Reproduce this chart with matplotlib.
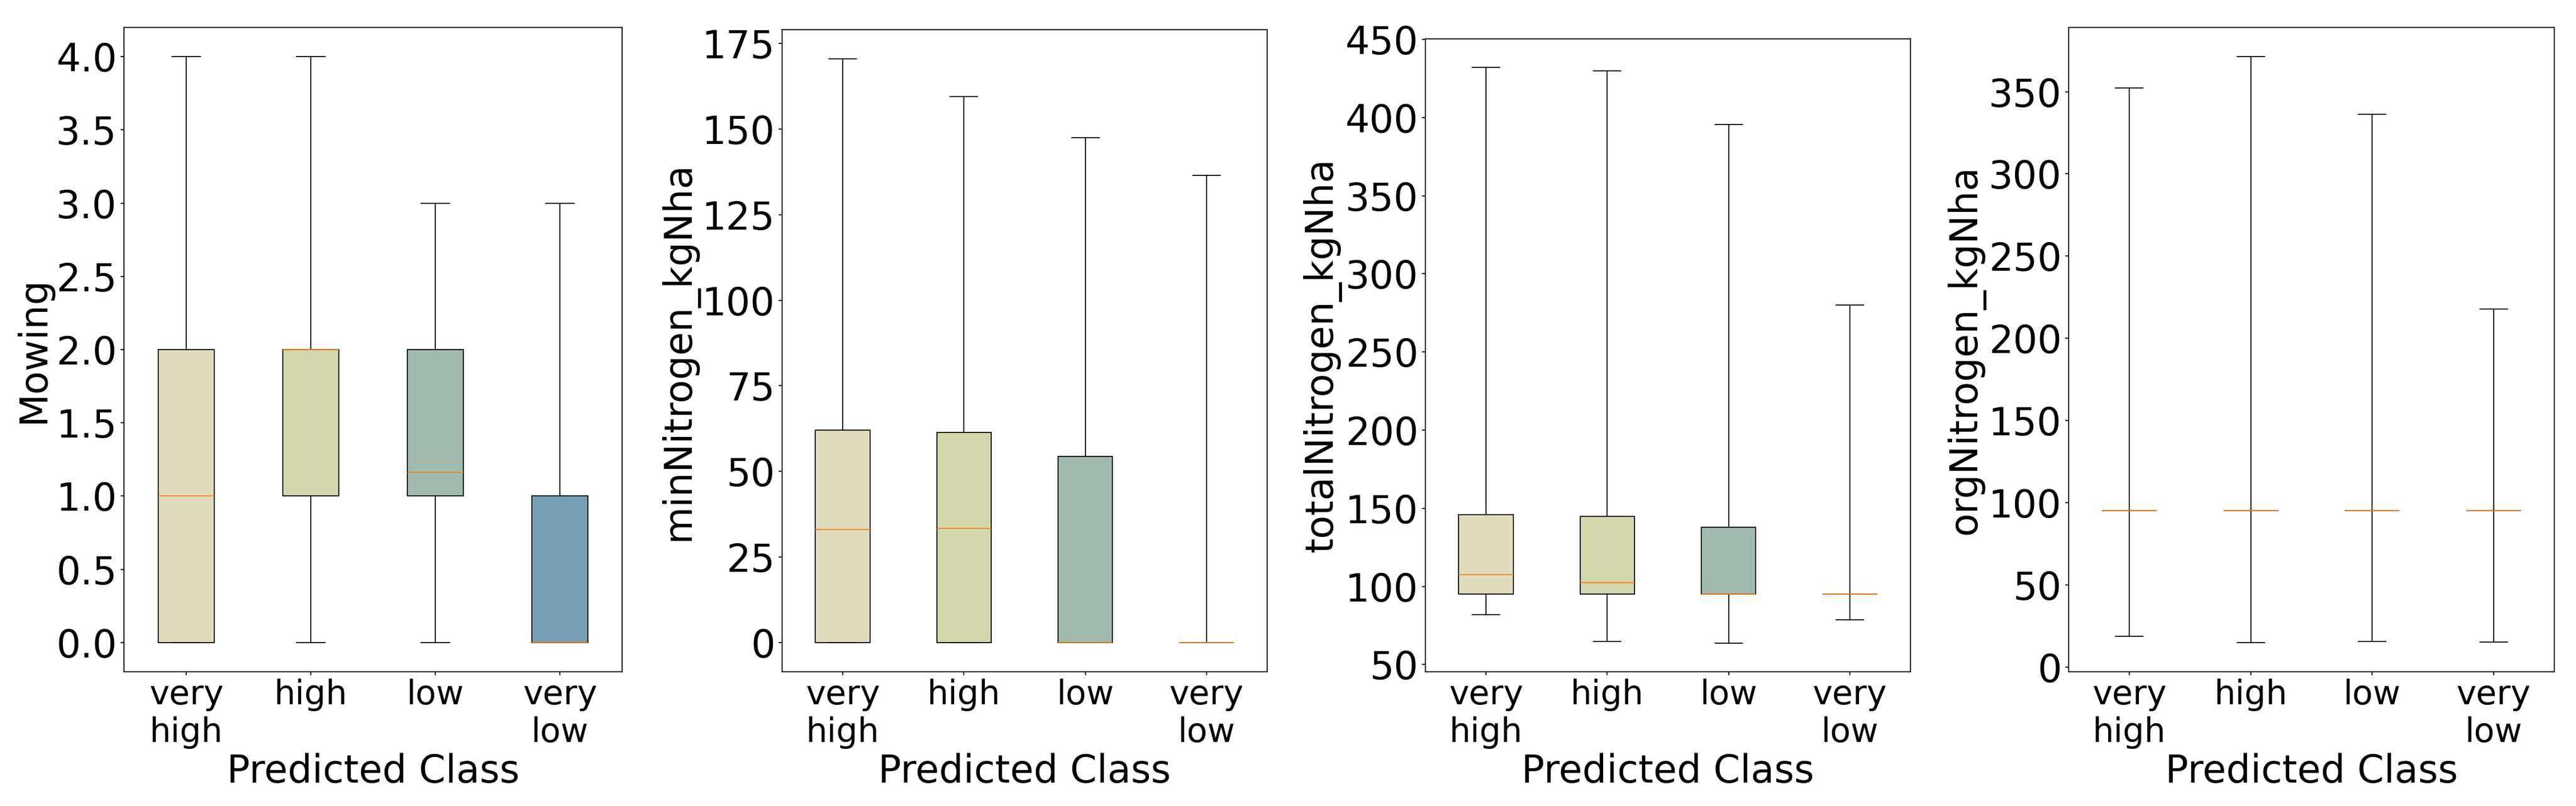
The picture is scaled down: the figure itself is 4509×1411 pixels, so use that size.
import matplotlib
matplotlib.use("Agg")
from matplotlib import pyplot as plt
from matplotlib.ticker import MultipleLocator

plt.rcParams["axes.linewidth"] = 1.0
plt.rcParams["xtick.major.width"] = 1.0
plt.rcParams["ytick.major.width"] = 1.0

# classes on the x axis
classes = ["very\nhigh", "high", "low", "very\nlow"]
box_colors = ["#e1dbbe", "#d4d6ab", "#a0bbae", "#77a0b6"]

# box statistics: whislo, q1, med, q3, whishi
mowing_lo = [0.0, 0.0, 0.0, 0.0]
mowing_q1 = [0.0, 1.0, 1.0, 0.0]
mowing_med = [1.0, 2.0, 1.16, 0.0]
mowing_q3 = [2.0, 2.0, 2.0, 1.0]
mowing_hi = [4.0, 4.0, 3.0, 3.0]

minN_lo = [0.0, 0.0, 0.0, 0.0]
minN_q1 = [0.0, 0.0, 0.0, 0.0]
minN_med = [33.0, 33.3, 0.0, 0.0]
minN_q3 = [62.0, 61.4, 54.4, 0.0]
minN_hi = [170.5, 159.5, 147.5, 136.4]

totalN_lo = [82.0, 64.8, 63.8, 78.6]
totalN_q1 = [95.0, 95.0, 95.0, 95.0]
totalN_med = [107.6, 102.3, 95.0, 95.0]
totalN_q3 = [146.0, 144.7, 137.8, 95.0]
totalN_hi = [432.0, 430.0, 395.4, 280.0]

orgN_lo = [18.8, 15.0, 15.6, 15.3]
orgN_q1 = [95.0, 95.0, 95.0, 95.0]
orgN_med = [95.0, 95.0, 95.0, 95.0]
orgN_q3 = [95.0, 95.0, 95.0, 95.0]
orgN_hi = [352.2, 371.3, 336.3, 217.8]

# y tick step per panel
tick_steps = [0.5, 25, 50, 50]

panels = [
    ("Mowing", mowing_lo, mowing_q1, mowing_med, mowing_q3, mowing_hi),
    ("minNitrogen_kgNha", minN_lo, minN_q1, minN_med, minN_q3, minN_hi),
    ("totalNitrogen_kgNha", totalN_lo, totalN_q1, totalN_med, totalN_q3, totalN_hi),
    ("orgNitrogen_kgNha", orgN_lo, orgN_q1, orgN_med, orgN_q3, orgN_hi),
]

W, H, DPI = 4509, 1411, 125
# axes boxes in pixels: left, right, top, bottom
axes_px = [(217, 1089, 48, 1176), (1369, 2218, 52, 1176),
           (2495, 3344, 68, 1176), (3621, 4471, 48, 1176)]

fig = plt.figure(figsize=(W / DPI, H / DPI), dpi=DPI)

for (name, lo, q1, med, q3, hi), (l, r, t, b), step in zip(panels, axes_px, tick_steps):
    ax = fig.add_axes([l / W, 1 - b / H, (r - l) / W, (b - t) / H])
    stats = []
    for i in range(len(classes)):
        stats.append({"whislo": lo[i], "q1": q1[i], "med": med[i],
                      "q3": q3[i], "whishi": hi[i], "fliers": []})
    res = ax.bxp(stats, showfliers=False, patch_artist=True,
                 medianprops={"color": "#ff7f0e", "linewidth": 1.0})
    for patch, c in zip(res["boxes"], box_colors):
        patch.set_facecolor(c)
        patch.set_edgecolor("black")
    ax.yaxis.set_major_locator(MultipleLocator(step))
    ax.set_xticks(range(1, len(classes) + 1))
    ax.set_xticklabels(classes, fontsize=34)
    ax.tick_params(axis="y", labelsize=38.6)
    ax.set_xlabel("Predicted Class", fontsize=38.6)
    ax.set_ylabel(name, fontsize=38.6)

fig.savefig("out.png", dpi=DPI)
